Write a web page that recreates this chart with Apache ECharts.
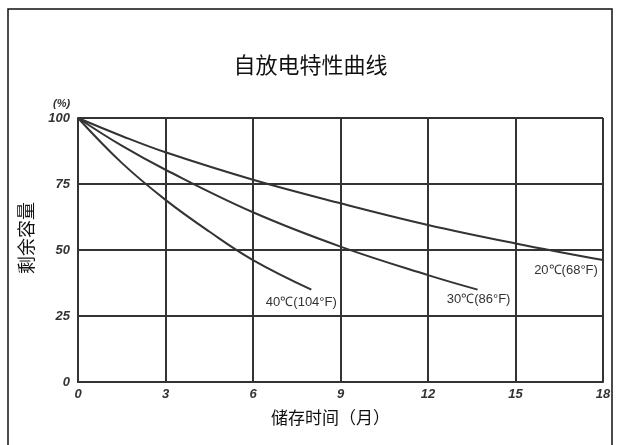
<!DOCTYPE html>
<html>
<head>
<meta charset="utf-8">
<script src="https://cdn.jsdelivr.net/npm/echarts@6/dist/echarts.min.js"></script>
<style>
html,body{margin:0;padding:0;background:#fff;}
#c{width:621px;height:445px;}
</style>
</head>
<body>
<div id="c"></div>
<script>
const xTicks = [0, 3, 6, 9, 12, 15, 18];
const yTicks = [0, 25, 50, 75, 100];
const seriesNames = ['40℃(104°F)', '30℃(86°F)', '20℃(68°F)'];
const data40 = [[0,100],[1.5,83],[3,69],[4.5,57],[6,46.2],[8,35]];
const data30 = [[0,100],[1.5,89.5],[3,80.4],[6,64.3],[9,51.3],[12,40.5],[13.7,35]];
const data20 = [[0,100],[1.5,93.2],[3,87],[6,76.6],[9,67.7],[12,59.5],[15,52.5],[18,46.2]];
const labelOffsets = [[-10,13],[1,10],[-37,10]];

const chart = echarts.init(document.getElementById('c'));
const ink = '#333';
const tickFont = {color: ink, fontFamily: 'Liberation Sans', fontStyle: 'italic', fontWeight: 'bold', fontSize: 13};
function mkSeries(name, data, off) {
  const last = data[data.length - 1];
  return {
    name: name, type: 'line', data: data, smooth: 0.4, symbol: 'none',
    lineStyle: {color: ink, width: 2}, z: 5,
    markPoint: {
      symbol: 'circle', symbolSize: 0,
      data: [{coord: last}],
      label: {show: true, position: 'inside', formatter: name, offset: off,
        color: ink, fontFamily: 'Liberation Sans', fontSize: 13}
    }
  };
}
chart.setOption({
  animation: false,
  backgroundColor: '#fff',
  title: {text: '自放电特性曲线', left: 'center', top: 49,
    textStyle: {fontFamily: 'Noto Sans CJK SC', fontWeight: 'normal', fontSize: 22, color: '#111'}},
  grid: {left: 78, right: 18, top: 118, bottom: 63, outerBoundsMode: 'none', containLabel: false},
  xAxis: {
    type: 'value', min: xTicks[0], max: xTicks[xTicks.length-1], interval: 3,
    name: '储存时间（月）', nameLocation: 'middle', nameGap: 27,
    nameTextStyle: {fontFamily: 'Noto Sans CJK SC', fontSize: 17, color: '#111', padding: [0, 20, 0, 0]},
    axisLine: {show: true, lineStyle: {color: ink, width: 2}},
    axisTick: {show: false},
    axisLabel: Object.assign({margin: 6}, tickFont),
    splitLine: {show: true, lineStyle: {color: ink, width: 2}}
  },
  yAxis: {
    type: 'value', min: yTicks[0], max: yTicks[yTicks.length-1], interval: 25,
    name: '剩余容量', nameLocation: 'middle', nameGap: 43, nameRotate: 90,
    nameTextStyle: {fontFamily: 'Noto Sans CJK SC', fontSize: 18, color: '#111', padding: [0, 0, 0, 24]},
    axisLine: {show: true, lineStyle: {color: ink, width: 2}},
    axisTick: {show: false},
    axisLabel: Object.assign({margin: 8, formatter: v => yTicks.includes(v) ? String(v) : ''}, tickFont),
    splitLine: {show: true, lineStyle: {color: ink, width: 2}}
  },
  graphic: [
    {type: 'rect', shape: {x: 8, y: 9, width: 604, height: 460}, style: {fill: 'none', stroke: '#111', lineWidth: 1.5}, silent: true},
    {type: 'text', left: 53, top: 98, style: {text: '(%)', fill: ink, font: 'italic bold 11px "Liberation Sans"'}}
  ],
  series: [
    mkSeries(seriesNames[0], data40, labelOffsets[0]),
    mkSeries(seriesNames[1], data30, labelOffsets[1]),
    mkSeries(seriesNames[2], data20, labelOffsets[2])
  ]
});
</script>
</body>
</html>
